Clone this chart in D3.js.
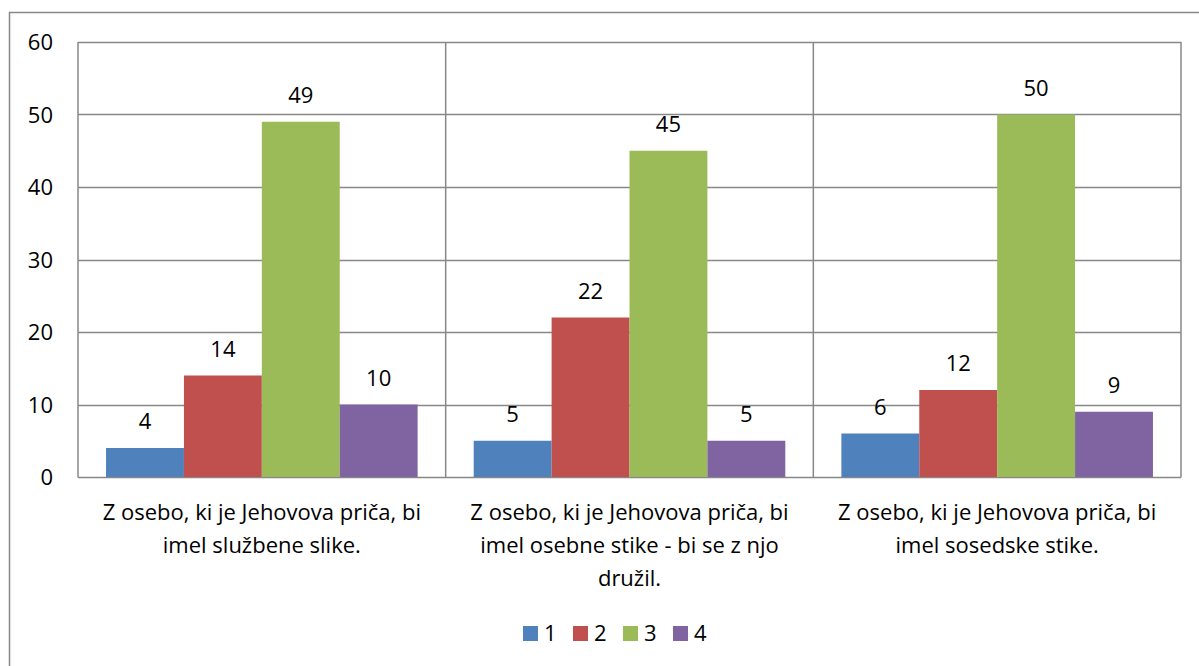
<!DOCTYPE html>
<html>
  <head>
    <meta charset="utf-8">
    <title>Bar Chart</title>
    <script src="https://cdn.jsdelivr.net/npm/d3@7"></script>
    <style>
      html, body { margin: 0; background: #fff; }
      svg text { font-family: "Open Sans", "Liberation Sans", sans-serif; fill: #000; }
    </style>
  </head>
  <body>
    <script>
    // data
    var categories = [
      "Z osebo, ki je Jehovova priča, bi\nimel službene slike.",
      "Z osebo, ki je Jehovova priča, bi\nimel osebne stike - bi se z njo\ndružil.",
      "Z osebo, ki je Jehovova priča, bi\nimel sosedske stike."
    ];
    var seriesNames = ["1", "2", "3", "4"];
    var s1 = [4, 5, 6];
    var s2 = [14, 22, 12];
    var s3 = [49, 45, 50];
    var s4 = [10, 5, 9];
    var yTicks = [0, 10, 20, 30, 40, 50, 60];
    var colors = ["#4F81BD", "#C0504D", "#9BBB59", "#8064A2"];

    var series = [s1, s2, s3, s4];
    var W = 1199, H = 666;
    var plotL = 78, plotR = 1181, plotT = 42, plotB = 477;
    var fs = "22px";

    var svg = d3.select("body").append("svg")
                .attr("width", W).attr("height", H);

    // outer chart border
    svg.append("rect")
       .attr("x", 9.5).attr("y", 12.5)
       .attr("width", W + 10).attr("height", H + 10)
       .attr("fill", "none").attr("stroke", "#888").attr("stroke-width", 1.5);

    var x0 = d3.scaleBand().domain(d3.range(categories.length))
               .range([plotL, plotR]).paddingInner(0).paddingOuter(0);
    var x1 = d3.scaleBand().domain(d3.range(series.length))
               .range([0, x0.bandwidth()]).paddingOuter(0.36).paddingInner(0);
    var y = d3.scaleLinear().domain([0, 60]).range([plotB, plotT]);

    // gridlines
    svg.append("g").selectAll("line").data(yTicks).enter().append("line")
       .attr("x1", plotL).attr("x2", plotR)
       .attr("y1", function(d) { return Math.round(y(d)) + 0.5; })
       .attr("y2", function(d) { return Math.round(y(d)) + 0.5; })
       .attr("stroke", "#888").attr("stroke-width", 1.5);

    // category separators and plot sides
    var seps = d3.range(categories.length + 1).map(function(i) {
      return i < categories.length ? x0(i) : plotR;
    });
    svg.append("g").selectAll("line").data(seps).enter().append("line")
       .attr("x1", function(d) { return d; }).attr("x2", function(d) { return d; })
       .attr("y1", plotT).attr("y2", plotB + 0.5)
       .attr("stroke", "#888").attr("stroke-width", 1.5);

    // bars
    var groups = svg.append("g").selectAll("g").data(series).enter().append("g");
    groups.each(function(vals, si) {
      var g = d3.select(this);
      g.selectAll("rect").data(vals).enter().append("rect")
       .attr("x", function(d, ci) { return x0(ci) + x1(si); })
       .attr("y", function(d) { return y(d); })
       .attr("width", x1.bandwidth())
       .attr("height", function(d) { return plotB - y(d); })
       .attr("fill", colors[si]);
      g.selectAll("text").data(vals).enter().append("text")
       .attr("x", function(d, ci) { return x0(ci) + x1(si) + x1.bandwidth() / 2; })
       .attr("y", function(d) { return y(d) - 19; })
       .attr("text-anchor", "middle")
       .style("font-size", fs)
       .text(function(d) { return d; });
    });

    // y axis labels
    svg.append("g").selectAll("text").data(yTicks).enter().append("text")
       .attr("x", 53).attr("y", function(d) { return y(d) + 8; })
       .attr("text-anchor", "end").style("font-size", fs)
       .text(function(d) { return d; });

    // category labels
    categories.forEach(function(c, i) {
      var t = svg.append("text")
                 .attr("text-anchor", "middle").style("font-size", fs);
      c.split("\n").forEach(function(line, k) {
        t.append("tspan")
         .attr("x", x0(i) + x0.bandwidth() / 2)
         .attr("y", 520 + k * 33)
         .text(line);
      });
    });

    // legend
    var legend = svg.append("g").selectAll("g").data(seriesNames).enter().append("g")
       .attr("transform", function(d, i) { return "translate(" + (523 + i * 50) + ",626)"; });
    legend.append("rect").attr("width", 15).attr("height", 15)
       .attr("fill", function(d, i) { return colors[i]; });
    legend.append("text").attr("x", 21).attr("y", 15)
       .style("font-size", fs).text(function(d) { return d; });
    </script>
  </body>
</html>
